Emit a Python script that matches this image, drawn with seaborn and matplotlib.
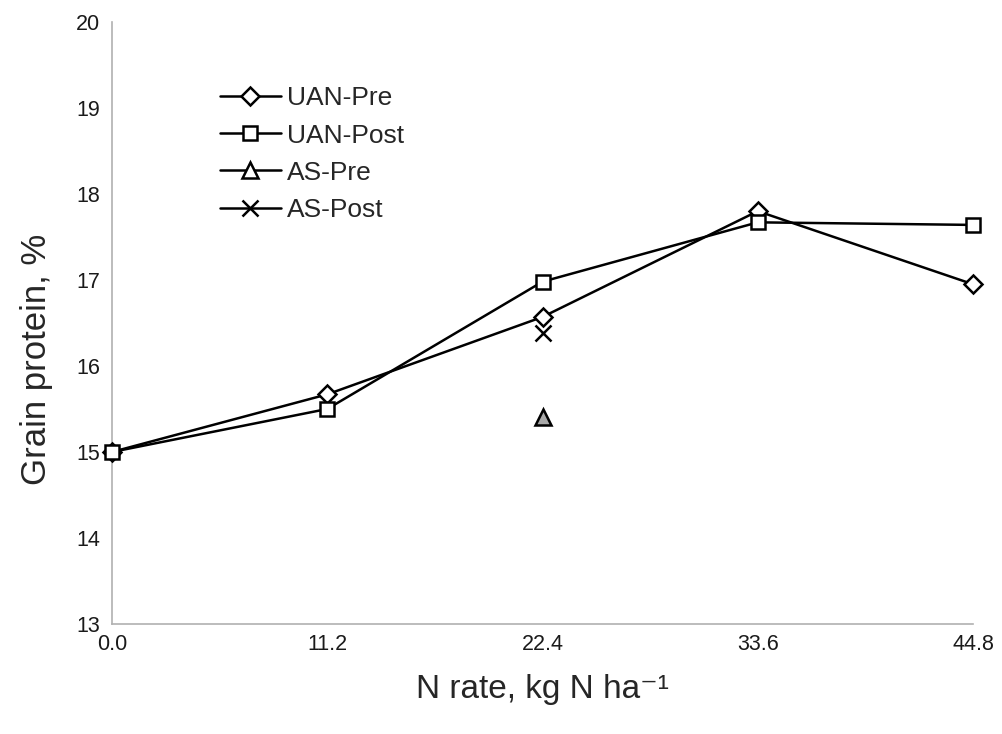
import pandas as pd
import matplotlib
matplotlib.use("Agg")
import matplotlib.pyplot as plt
import seaborn as sns

# N rates (kg N/ha) and grain protein (%)
n_rate = [0.0, 11.2, 22.4, 33.6, 44.8]
uan_pre = [15.0, 15.67, 16.57, 17.80, 16.95]
uan_post = [15.0, 15.50, 16.98, 17.67, 17.64]
as_rate = [22.4]
as_pre = [15.41]
as_post = [16.38]

tick_labels = ["0.0", "11.2", "22.4", "33.6", "44.8"]

series = [
    ("UAN-Pre", n_rate, uan_pre, "D", 9, "white"),
    ("UAN-Post", n_rate, uan_post, "s", 10, "white"),
    ("AS-Pre", as_rate, as_pre, "^", 11, "#a8a8a8"),
    ("AS-Post", as_rate, as_post, "x", 11, "white"),
]

sns.set_theme(style="white")
plt.rcParams["font.family"] = ["Liberation Sans", "DejaVu Sans"]

fig = plt.figure(figsize=(10.03, 7.34), dpi=100)
ax = fig.add_axes([0.1117, 0.1499, 0.8584, 0.8202])

for name, xs, ys, mk, ms, fc in series:
    df = pd.DataFrame({"x": xs, "y": ys})
    sns.lineplot(data=df, x="x", y="y", ax=ax, label=name, color="black",
                 linewidth=1.8, marker=mk, markersize=ms,
                 markerfacecolor=fc, markeredgecolor="black",
                 markeredgewidth=1.8, clip_on=False, zorder=3)

ax.set_xlim(0, 44.8)
ax.set_ylim(13, 20)
ax.set_xticks(n_rate)
ax.set_xticklabels(tick_labels)
ax.set_yticks(range(13, 21))
ax.tick_params(axis="both", direction="out", length=5, width=1,
               color="#b0b0b0", labelsize=15.5, labelcolor="#1a1a1a")
ax.tick_params(axis="y", pad=3.5)
ax.tick_params(axis="x", pad=2)

for side in ["top", "right"]:
    ax.spines[side].set_visible(False)
for side in ["left", "bottom"]:
    ax.spines[side].set_color("#b0b0b0")
    ax.spines[side].set_linewidth(1.2)

ax.set_xlabel("N rate, kg N ha\u207b\u00b9", fontsize=24, labelpad=14)
ax.set_ylabel("Grain protein, %", fontsize=25)
ax.yaxis.set_label_coords(-0.068, 0.44)

leg = ax.legend(loc="upper left", bbox_to_anchor=(0.11, 0.915), frameon=False,
                fontsize=19, borderpad=0, handlelength=2.3, handletextpad=0.25,
                labelspacing=0.5)
leg.legend_handles[2].set_markerfacecolor("white")

fig.savefig("out.png", dpi=100)
